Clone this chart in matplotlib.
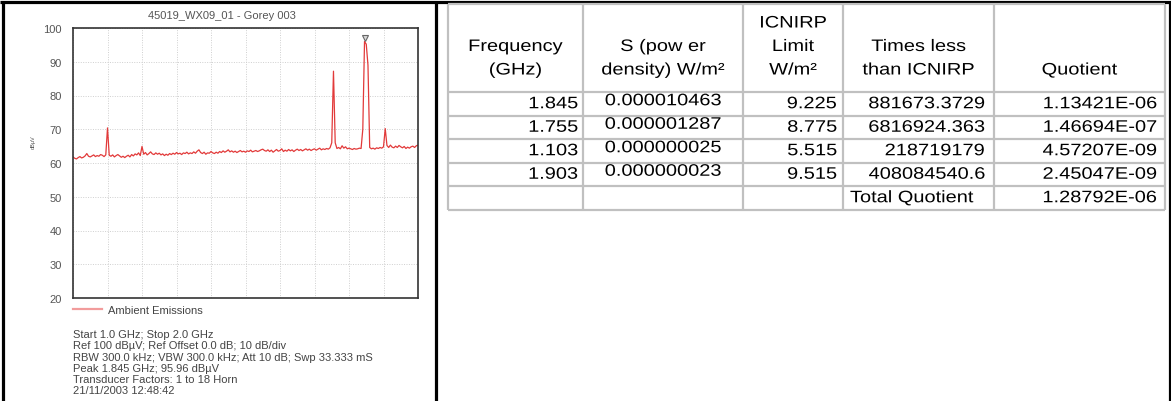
import numpy as np
import matplotlib
matplotlib.use("Agg")
import matplotlib.pyplot as plt
from matplotlib.lines import Line2D
from matplotlib.patheffects import AbstractPathEffect
from matplotlib.transforms import Affine2D, offset_copy


W, H = 1171, 402

plt.rcParams["font.family"] = ["Liberation Sans", "DejaVu Sans"]

# spectrum trace, 1.0 to 2.0 GHz, 5 MHz steps
FREQ_GHZ = np.linspace(1.0, 2.0, 201)
LEVEL_DBUV = [
    61.8, 61.4, 61.2, 61.6, 61.9, 61.5, 61.7, 62.1, 62.8, 62.0,
    61.8, 62.1, 62.4, 61.9, 62.2, 62.0, 62.5, 62.3, 61.9, 62.4,
    70.4, 62.3, 62.0, 62.4, 61.8, 62.2, 62.5, 62.1, 61.7, 62.0,
    61.6, 62.0, 62.3, 61.8, 62.5, 62.1, 62.7, 62.4, 63.0, 62.2,
    64.9, 62.6, 63.1, 62.4, 62.8, 63.3, 62.7, 62.5, 63.0, 62.6,
    62.9, 62.4, 62.7, 62.2, 62.6, 62.3, 62.8, 62.5, 62.9, 62.6,
    63.1, 62.7, 62.9, 62.5, 63.0, 62.8, 63.2, 62.7, 63.0, 62.8,
    63.3, 62.9, 63.5, 63.9, 63.1, 62.8, 63.2, 62.6, 63.0, 62.9,
    63.4, 63.0, 62.8, 63.2, 62.9, 63.4, 63.1, 63.6, 63.2, 63.5,
    63.9, 63.3, 63.6, 63.2, 63.5, 63.1, 63.4, 63.7, 63.3, 63.5,
    63.2, 63.6, 63.4, 63.8, 63.3, 63.5, 63.7, 63.4, 63.6, 63.9,
    64.1, 63.7, 63.5, 63.9, 63.4, 63.8, 63.2, 63.6, 64.0, 63.5,
    63.7, 64.2, 63.4, 63.8, 63.5, 64.0, 63.6, 63.9, 63.4, 63.8,
    64.1, 63.7, 64.0, 63.6, 63.9, 64.2, 63.8, 64.1, 63.7, 64.0,
    64.2, 63.8, 64.1, 64.4, 63.9, 64.2, 64.0, 64.3, 64.1, 64.5,
    66.0, 87.2, 66.0, 64.3, 64.6, 64.2, 65.1, 64.4, 64.8, 64.2,
    64.4, 64.2, 64.0, 64.3, 64.1, 64.2, 64.4, 64.3, 70.0, 96.0,
    95.2, 89.0, 64.6, 64.2, 64.4, 64.1, 64.5, 64.3, 64.6, 64.4,
    64.8, 70.2, 65.2, 64.6, 65.3, 64.7, 64.5, 65.0, 64.6, 65.2,
    64.8, 64.5, 64.9, 64.3, 64.7, 64.4, 64.8, 65.0, 64.6, 65.1,
    65.3,
]

PEAK_FREQ = 1.845
PEAK_LEVEL = 95.96

PLOT_TITLE = "45019_WX09_01 - Gorey 003"
LEGEND_LABEL = "Ambient Emissions"
INFO_LINES = [
    "Start 1.0 GHz; Stop 2.0 GHz",
    "Ref 100 dBµV; Ref Offset 0.0 dB; 10 dB/div",
    "RBW 300.0 kHz; VBW 300.0 kHz; Att 10 dB; Swp 33.333 mS",
    "Peak 1.845 GHz; 95.96 dBµV",
    "Transducer Factors: 1 to 18 Horn",
    "21/11/2003 12:48:42",
]

# exposure table
HEADERS = [
    "Frequency\n(GHz)",
    "S (pow er\ndensity) W/m²",
    "ICNIRP\nLimit\nW/m²",
    "Times less\nthan ICNIRP",
    "Quotient",
]
FREQ_COL = ["1.845", "1.755", "1.103", "1.903", ""]
POWER_DENSITY = ["0.000010463", "0.000001287", "0.000000025", "0.000000023", ""]
ICNIRP_LIMIT = ["9.225", "8.775", "5.515", "9.515", ""]
TIMES_LESS = ["881673.3729", "6816924.363", "218719179", "408084540.6", "Total Quotient"]
QUOTIENT = ["1.13421E-06", "1.46694E-07", "4.57207E-09", "2.45047E-09", "1.28792E-06"]

TRACE_COLOR = "#e23a3a"
GRID_COLOR = "#cfcfcf"
TABLE_LINE = "#c0c0c0"


class HStretch(AbstractPathEffect):
    """Widen text glyphs horizontally around a fixed x (display pixels)."""

    def __init__(self, sx, x0):
        super().__init__()
        self.sx = sx
        self.x0 = x0

    def draw_path(self, renderer, gc, tpath, affine, rgbFace=None):
        aff = affine + Affine2D().translate(-self.x0, 0).scale(self.sx, 1).translate(self.x0, 0)
        renderer.draw_path(gc, tpath, aff, rgbFace)


fig = plt.figure(figsize=(W / 100, H / 100), dpi=100)


def px_axes(left, top, right, bottom):
    return fig.add_axes([left / W, 1 - bottom / H, (right - left) / W, (bottom - top) / H])


# ---- spectrum plot ----
ax = px_axes(73, 29, 418, 299)
ax.plot(FREQ_GHZ, LEVEL_DBUV, color=TRACE_COLOR, lw=0.9)
marker_tr = offset_copy(ax.transData, fig=fig, y=4, units="dots")
ax.plot([PEAK_FREQ], [PEAK_LEVEL], marker="v", ms=5, mfc="#d8d8d8", mec="#666666",
        mew=0.8, transform=marker_tr, clip_on=False)
ax.set_xlim(1.0, 2.0)
ax.set_ylim(20, 100)
ax.set_xticks(np.linspace(1.0, 2.0, 11))
ax.set_yticks(range(20, 101, 10))
ax.tick_params(axis="x", length=0, labelbottom=False)
ax.tick_params(axis="y", length=0, pad=8, labelsize=8, labelcolor="#555555")
ax.grid(True, color=GRID_COLOR, lw=0.7, ls=(0, (1, 1.5)))
for sp in ax.spines.values():
    sp.set_color("#333333")
    sp.set_linewidth(1.2)

handle = Line2D([], [], color="#f29c9c", lw=1.6)
ax.legend([handle], [LEGEND_LABEL], loc="upper left",
          bbox_to_anchor=(73 / W, 1 - 306 / H), bbox_transform=fig.transFigure,
          frameon=False, borderpad=0, borderaxespad=0, handlelength=2.6,
          handletextpad=0.55, fontsize=8, labelcolor="#444444")

# ---- overlay for texts, frame and table (pixel coords) ----
ov = fig.add_axes([0, 0, 1, 1], zorder=-1)
ov.set_xlim(0, W)
ov.set_ylim(H, 0)
ov.axis("off")

ov.text(222, 16, PLOT_TITLE, ha="center", va="center", fontsize=8, color="#555555")
ov.text(33, 142, "dBµV", ha="center", va="center", rotation=90, fontsize=4, color="#555555")
for i, line in enumerate(INFO_LINES):
    ov.text(73, 335 + 11.3 * i, line, ha="left", va="center", fontsize=8, color="#444444")

# frame
ov.plot([0, W], [3, 3], color="black", lw=2.3, solid_capstyle="butt")
ov.plot([3, 3], [2, H], color="black", lw=2.3, solid_capstyle="butt")
ov.plot([436, 436], [2, H], color="black", lw=2.3, solid_capstyle="butt")
ov.plot([1169.5, 1169.5], [2, H], color="black", lw=2.3, solid_capstyle="butt")

# table grid
col_x = [448, 583, 743, 843, 994, 1165]
row_y = [5, 93, 116.5, 140, 163.5, 187, 210.5]
ov.hlines(row_y, col_x[0], col_x[-1], color=TABLE_LINE, lw=1.6)
ov.vlines(col_x, row_y[0], row_y[-1], color=TABLE_LINE, lw=1.6)

fs = 12
sx = 1.2
right_pad = [5, 0, 6, 9, 8]


def cell_text(x, y, s, ha):
    ov.text(x, y, s, ha=ha, va="center", fontsize=fs,
            path_effects=[HStretch(sx, x)])


for j, head in enumerate(HEADERS):
    cx = (col_x[j] + col_x[j + 1]) / 2
    lines = head.split("\n")[::-1]
    for k, line in enumerate(lines):
        cell_text(cx, 71 - 23.5 * k, line, "center")

columns = [FREQ_COL, POWER_DENSITY, ICNIRP_LIMIT, TIMES_LESS, QUOTIENT]
for j, col in enumerate(columns):
    for i, val in enumerate(col):
        cy = (row_y[i + 1] + row_y[i + 2]) / 2
        if not val:
            continue
        if j == 1:
            cell_text((col_x[1] + col_x[2]) / 2, cy - 3, val, "center")
        elif val == "Total Quotient":
            cell_text(col_x[j] + 7, cy, val, "left")
        else:
            cell_text(col_x[j + 1] - right_pad[j], cy, val, "right")

fig.savefig("out.png", dpi=100)
